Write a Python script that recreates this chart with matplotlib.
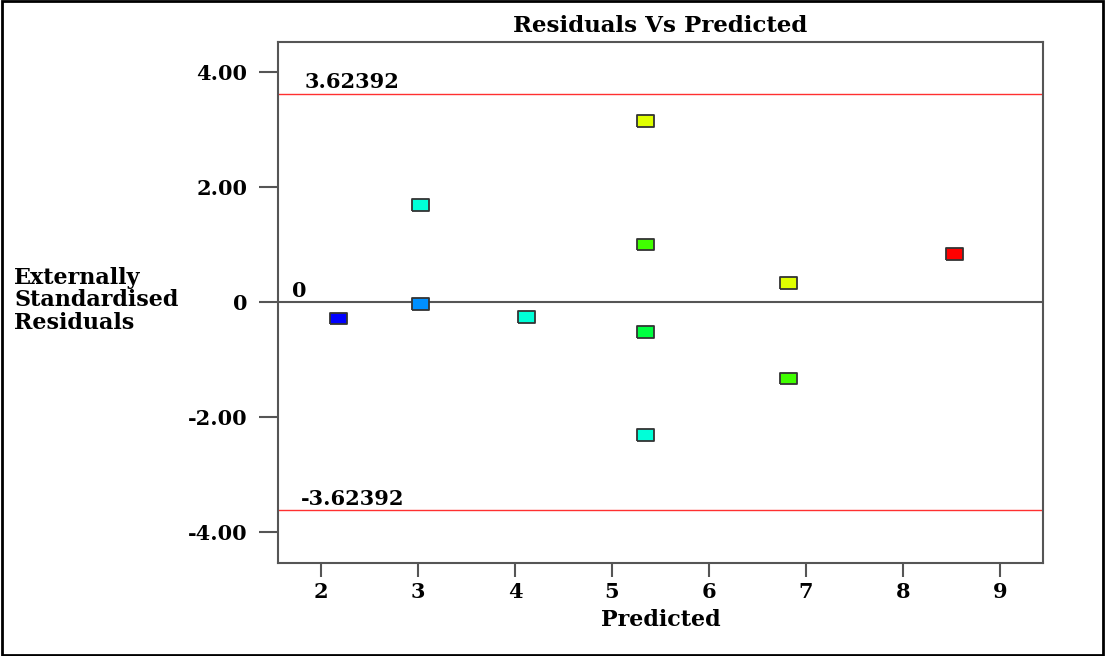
import matplotlib

matplotlib.use("Agg")
import matplotlib.pyplot as plt
from matplotlib.patches import Rectangle

predicted = [2.18, 3.03, 3.03, 4.12, 5.35, 5.35, 5.35, 5.35, 6.82, 6.82, 8.53]
residuals = [-0.29, 1.68, -0.04, -0.26, 3.14, 1.00, -0.52, -2.31, 0.33, -1.33, 0.83]
colors = ["#0000ff", "#00ffd8", "#0090ff", "#00ffd8", "#e0ff00", "#40ff00",
          "#00ff40", "#00ffd8", "#e0ff00", "#40ff00", "#ff0000"]
limit = 3.62392
x_ticks = [2, 3, 4, 5, 6, 7, 8, 9]
y_ticks = [-4, -2, 0, 2, 4]
y_tick_labels = ["-4.00", "-2.00", "0", "2.00", "4.00"]

plt.rcParams["font.family"] = ["DejaVu Serif"]
plt.rcParams["font.weight"] = "bold"
FS = 15

fig = plt.figure(figsize=(11.05, 6.56), dpi=100)
ax = fig.add_axes([0.2516, 0.1418, 0.6923, 0.7942])

rect_marker = [(-1.45, -1), (1.45, -1), (1.45, 1), (-1.45, 1), (-1.45, -1)]
ax.scatter(predicted, residuals, c=colors, marker=rect_marker, s=150,
           edgecolors="#333333", linewidths=1.3, zorder=3)

ax.axhline(limit, color="#ff3030", lw=1.0)
ax.axhline(-limit, color="#ff3030", lw=1.0)
ax.axhline(0, color="#555555", lw=1.5)

ax.text(1.83, limit + 0.02, "3.62392", fontsize=FS, fontweight="bold", va="bottom")
ax.text(1.79, -limit + 0.02, "-3.62392", fontsize=FS, fontweight="bold", va="bottom")
ax.text(1.70, 0.02, "0", fontsize=FS, fontweight="bold", va="bottom")

ax.set_xlim(1.557, 9.443)
ax.set_ylim(-4.54, 4.52)
ax.set_xticks(x_ticks)
ax.set_yticks(y_ticks)
ax.set_yticklabels(y_tick_labels)
ax.tick_params(axis="y", length=14, width=1.5, pad=8, labelsize=FS, color="#555555")
ax.tick_params(axis="x", length=10, width=1.5, pad=4, labelsize=FS, color="#555555")
for lab in ax.get_xticklabels() + ax.get_yticklabels():
    lab.set_fontweight("bold")
for sp in ax.spines.values():
    sp.set_color("#555555")
    sp.set_linewidth(1.5)

ax.set_title("Residuals Vs Predicted", fontsize=16.5, fontweight="bold", pad=7)
ax.set_xlabel("Predicted", fontsize=16, fontweight="bold", labelpad=5)
fig.text(0.013, 0.542, "Externally\nStandardised\nResiduals", fontsize=16,
         fontweight="bold", ha="left", va="center", linespacing=1.05)

fig.patches.append(Rectangle((0.002, 0.002), 0.996, 0.996, transform=fig.transFigure,
                             fill=False, edgecolor="black", linewidth=2))

fig.savefig("out.png", dpi=100)
